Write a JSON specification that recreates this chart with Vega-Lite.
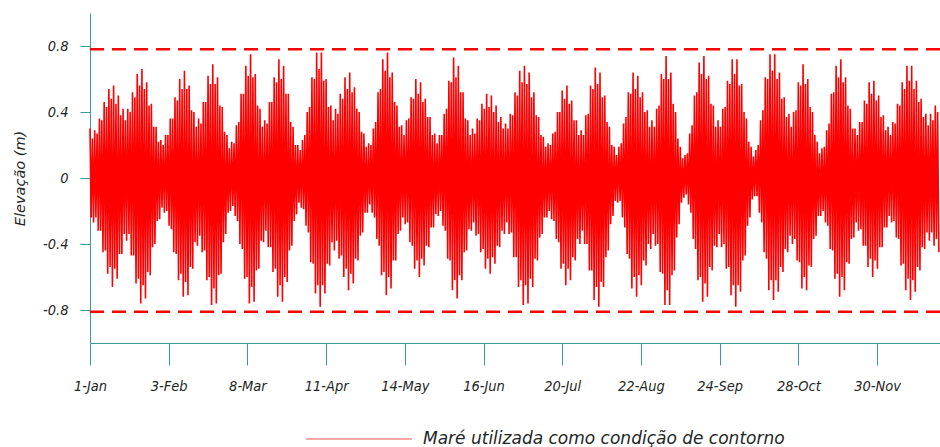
{
  "$schema": "https://vega.github.io/schema/vega-lite/v6.json",
  "width": 850,
  "height": 330,
  "autosize": {"type": "none"},
  "padding": {"left": 90, "top": 13, "right": 0, "bottom": 104},
  "background": "white",
  "config": {
    "view": {"stroke": null},
    "font": "DejaVu Sans",
    "legend": {"labelColor": "#1e2626"}
  },
  "layer": [
    {
      "data": {"values": [
{"t":0,"v":0.30},{"t":1,"v":-0.24},{"t":2,"v":0.24},{"t":3,"v":-0.27},{"t":4,"v":0.29},{"t":5,"v":-0.24},{"t":6,"v":0.27},{"t":7,"v":-0.32},{"t":8,"v":0.36},{"t":9,"v":-0.32},
{"t":10,"v":0.35},{"t":11,"v":-0.45},{"t":12,"v":0.46},{"t":13,"v":-0.44},{"t":14,"v":0.43},{"t":15,"v":-0.58},{"t":16,"v":0.54},{"t":17,"v":-0.54},{"t":18,"v":0.48},{"t":19,"v":-0.66},
{"t":20,"v":0.56},{"t":21,"v":-0.55},{"t":22,"v":0.45},{"t":23,"v":-0.61},{"t":24,"v":0.50},{"t":25,"v":-0.46},{"t":26,"v":0.38},{"t":27,"v":-0.46},{"t":28,"v":0.42},{"t":29,"v":-0.34},
{"t":30,"v":0.35},{"t":31,"v":-0.38},{"t":32,"v":0.42},{"t":33,"v":-0.34},{"t":34,"v":0.40},{"t":35,"v":-0.47},{"t":36,"v":0.52},{"t":37,"v":-0.47},{"t":38,"v":0.49},{"t":39,"v":-0.64},
{"t":40,"v":0.63},{"t":41,"v":-0.61},{"t":42,"v":0.56},{"t":43,"v":-0.76},{"t":44,"v":0.66},{"t":45,"v":-0.65},{"t":46,"v":0.54},{"t":47,"v":-0.73},{"t":48,"v":0.58},{"t":49,"v":-0.57},
{"t":50,"v":0.44},{"t":51,"v":-0.59},{"t":52,"v":0.45},{"t":53,"v":-0.42},{"t":54,"v":0.31},{"t":55,"v":-0.40},{"t":56,"v":0.31},{"t":57,"v":-0.26},{"t":58,"v":0.22},{"t":59,"v":-0.25},
{"t":60,"v":0.23},{"t":61,"v":-0.18},{"t":62,"v":0.20},{"t":63,"v":-0.21},{"t":64,"v":0.26},{"t":65,"v":-0.20},{"t":66,"v":0.26},{"t":67,"v":-0.29},{"t":68,"v":0.36},{"t":69,"v":-0.31},
{"t":70,"v":0.36},{"t":71,"v":-0.45},{"t":72,"v":0.49},{"t":73,"v":-0.46},{"t":74,"v":0.47},{"t":75,"v":-0.62},{"t":76,"v":0.60},{"t":77,"v":-0.58},{"t":78,"v":0.54},{"t":79,"v":-0.72},
{"t":80,"v":0.65},{"t":81,"v":-0.63},{"t":82,"v":0.54},{"t":83,"v":-0.71},{"t":84,"v":0.56},{"t":85,"v":-0.54},{"t":86,"v":0.41},{"t":87,"v":-0.55},{"t":88,"v":0.40},{"t":89,"v":-0.39},
{"t":90,"v":0.31},{"t":91,"v":-0.41},{"t":92,"v":0.36},{"t":93,"v":-0.35},{"t":94,"v":0.33},{"t":95,"v":-0.45},{"t":96,"v":0.46},{"t":97,"v":-0.44},{"t":98,"v":0.46},{"t":99,"v":-0.62},
{"t":100,"v":0.62},{"t":101,"v":-0.60},{"t":102,"v":0.57},{"t":103,"v":-0.77},{"t":104,"v":0.69},{"t":105,"v":-0.67},{"t":106,"v":0.57},{"t":107,"v":-0.76},{"t":108,"v":0.61},{"t":109,"v":-0.59},
{"t":110,"v":0.44},{"t":111,"v":-0.58},{"t":112,"v":0.43},{"t":113,"v":-0.39},{"t":114,"v":0.28},{"t":115,"v":-0.34},{"t":116,"v":0.26},{"t":117,"v":-0.21},{"t":118,"v":0.18},{"t":119,"v":-0.20},
{"t":120,"v":0.22},{"t":121,"v":-0.17},{"t":122,"v":0.21},{"t":123,"v":-0.23},{"t":124,"v":0.32},{"t":125,"v":-0.26},{"t":126,"v":0.34},{"t":127,"v":-0.40},{"t":128,"v":0.51},{"t":129,"v":-0.43},
{"t":130,"v":0.51},{"t":131,"v":-0.61},{"t":132,"v":0.68},{"t":133,"v":-0.60},{"t":134,"v":0.62},{"t":135,"v":-0.76},{"t":136,"v":0.75},{"t":137,"v":-0.66},{"t":138,"v":0.61},{"t":139,"v":-0.75},
{"t":140,"v":0.63},{"t":141,"v":-0.56},{"t":142,"v":0.44},{"t":143,"v":-0.55},{"t":144,"v":0.42},{"t":145,"v":-0.38},{"t":146,"v":0.31},{"t":147,"v":-0.39},{"t":148,"v":0.35},{"t":149,"v":-0.32},
{"t":150,"v":0.33},{"t":151,"v":-0.42},{"t":152,"v":0.46},{"t":153,"v":-0.42},{"t":154,"v":0.46},{"t":155,"v":-0.57},{"t":156,"v":0.61},{"t":157,"v":-0.55},{"t":158,"v":0.58},{"t":159,"v":-0.72},
{"t":160,"v":0.72},{"t":161,"v":-0.65},{"t":162,"v":0.60},{"t":163,"v":-0.75},{"t":164,"v":0.68},{"t":165,"v":-0.60},{"t":166,"v":0.51},{"t":167,"v":-0.63},{"t":168,"v":0.51},{"t":169,"v":-0.44},
{"t":170,"v":0.34},{"t":171,"v":-0.41},{"t":172,"v":0.31},{"t":173,"v":-0.26},{"t":174,"v":0.20},{"t":175,"v":-0.22},{"t":176,"v":0.20},{"t":177,"v":-0.15},{"t":178,"v":0.17},{"t":179,"v":-0.18},
{"t":180,"v":0.23},{"t":181,"v":-0.19},{"t":182,"v":0.26},{"t":183,"v":-0.29},{"t":184,"v":0.40},{"t":185,"v":-0.33},{"t":186,"v":0.43},{"t":187,"v":-0.51},{"t":188,"v":0.61},{"t":189,"v":-0.52},
{"t":190,"v":0.60},{"t":191,"v":-0.70},{"t":192,"v":0.76},{"t":193,"v":-0.65},{"t":194,"v":0.66},{"t":195,"v":-0.78},{"t":196,"v":0.76},{"t":197,"v":-0.65},{"t":198,"v":0.59},{"t":199,"v":-0.70},
{"t":200,"v":0.60},{"t":201,"v":-0.52},{"t":202,"v":0.43},{"t":203,"v":-0.53},{"t":204,"v":0.44},{"t":205,"v":-0.39},{"t":206,"v":0.35},{"t":207,"v":-0.44},{"t":208,"v":0.42},{"t":209,"v":-0.38},
{"t":210,"v":0.39},{"t":211,"v":-0.49},{"t":212,"v":0.51},{"t":213,"v":-0.47},{"t":214,"v":0.48},{"t":215,"v":-0.60},{"t":216,"v":0.61},{"t":217,"v":-0.55},{"t":218,"v":0.54},{"t":219,"v":-0.68},
{"t":220,"v":0.64},{"t":221,"v":-0.58},{"t":222,"v":0.52},{"t":223,"v":-0.64},{"t":224,"v":0.55},{"t":225,"v":-0.49},{"t":226,"v":0.42},{"t":227,"v":-0.50},{"t":228,"v":0.40},{"t":229,"v":-0.35},
{"t":230,"v":0.28},{"t":231,"v":-0.33},{"t":232,"v":0.27},{"t":233,"v":-0.21},{"t":234,"v":0.19},{"t":235,"v":-0.21},{"t":236,"v":0.21},{"t":237,"v":-0.16},{"t":238,"v":0.20},{"t":239,"v":-0.21},
{"t":240,"v":0.30},{"t":241,"v":-0.24},{"t":242,"v":0.34},{"t":243,"v":-0.37},{"t":244,"v":0.52},{"t":245,"v":-0.41},{"t":246,"v":0.54},{"t":247,"v":-0.59},{"t":248,"v":0.72},{"t":249,"v":-0.57},
{"t":250,"v":0.65},{"t":251,"v":-0.71},{"t":252,"v":0.76},{"t":253,"v":-0.60},{"t":254,"v":0.61},{"t":255,"v":-0.67},{"t":256,"v":0.64},{"t":257,"v":-0.50},{"t":258,"v":0.46},{"t":259,"v":-0.50},
{"t":260,"v":0.44},{"t":261,"v":-0.34},{"t":262,"v":0.31},{"t":263,"v":-0.32},{"t":264,"v":0.32},{"t":265,"v":-0.24},{"t":266,"v":0.26},{"t":267,"v":-0.28},{"t":268,"v":0.35},{"t":269,"v":-0.27},
{"t":270,"v":0.36},{"t":271,"v":-0.39},{"t":272,"v":0.49},{"t":273,"v":-0.41},{"t":274,"v":0.48},{"t":275,"v":-0.55},{"t":276,"v":0.60},{"t":277,"v":-0.50},{"t":278,"v":0.51},{"t":279,"v":-0.60},
{"t":280,"v":0.58},{"t":281,"v":-0.49},{"t":282,"v":0.46},{"t":283,"v":-0.53},{"t":284,"v":0.48},{"t":285,"v":-0.41},{"t":286,"v":0.37},{"t":287,"v":-0.42},{"t":288,"v":0.37},{"t":289,"v":-0.30},
{"t":290,"v":0.26},{"t":291,"v":-0.30},{"t":292,"v":0.27},{"t":293,"v":-0.22},{"t":294,"v":0.21},{"t":295,"v":-0.23},{"t":296,"v":0.26},{"t":297,"v":-0.20},{"t":298,"v":0.26},{"t":299,"v":-0.29},
{"t":300,"v":0.39},{"t":301,"v":-0.32},{"t":302,"v":0.42},{"t":303,"v":-0.49},{"t":304,"v":0.59},{"t":305,"v":-0.50},{"t":306,"v":0.58},{"t":307,"v":-0.68},{"t":308,"v":0.73},{"t":309,"v":-0.62},
{"t":310,"v":0.61},{"t":311,"v":-0.73},{"t":312,"v":0.68},{"t":313,"v":-0.59},{"t":314,"v":0.52},{"t":315,"v":-0.62},{"t":316,"v":0.52},{"t":317,"v":-0.45},{"t":318,"v":0.36},{"t":319,"v":-0.44},
{"t":320,"v":0.35},{"t":321,"v":-0.31},{"t":322,"v":0.26},{"t":323,"v":-0.32},{"t":324,"v":0.30},{"t":325,"v":-0.27},{"t":326,"v":0.27},{"t":327,"v":-0.35},{"t":328,"v":0.36},{"t":329,"v":-0.34},
{"t":330,"v":0.35},{"t":331,"v":-0.45},{"t":332,"v":0.45},{"t":333,"v":-0.43},{"t":334,"v":0.42},{"t":335,"v":-0.55},{"t":336,"v":0.51},{"t":337,"v":-0.49},{"t":338,"v":0.43},{"t":339,"v":-0.58},
{"t":340,"v":0.50},{"t":341,"v":-0.48},{"t":342,"v":0.40},{"t":343,"v":-0.52},{"t":344,"v":0.44},{"t":345,"v":-0.41},{"t":346,"v":0.34},{"t":347,"v":-0.42},{"t":348,"v":0.37},{"t":349,"v":-0.32},
{"t":350,"v":0.30},{"t":351,"v":-0.34},{"t":352,"v":0.33},{"t":353,"v":-0.27},{"t":354,"v":0.30},{"t":355,"v":-0.34},{"t":356,"v":0.39},{"t":357,"v":-0.33},{"t":358,"v":0.38},{"t":359,"v":-0.48},
{"t":360,"v":0.52},{"t":361,"v":-0.48},{"t":362,"v":0.50},{"t":363,"v":-0.66},{"t":364,"v":0.65},{"t":365,"v":-0.62},{"t":366,"v":0.58},{"t":367,"v":-0.77},{"t":368,"v":0.68},{"t":369,"v":-0.65},
{"t":370,"v":0.57},{"t":371,"v":-0.76},{"t":372,"v":0.64},{"t":373,"v":-0.61},{"t":374,"v":0.49},{"t":375,"v":-0.66},{"t":376,"v":0.52},{"t":377,"v":-0.49},{"t":378,"v":0.38},{"t":379,"v":-0.50},
{"t":380,"v":0.37},{"t":381,"v":-0.36},{"t":382,"v":0.26},{"t":383,"v":-0.34},{"t":384,"v":0.25},{"t":385,"v":-0.24},{"t":386,"v":0.19},{"t":387,"v":-0.24},{"t":388,"v":0.21},{"t":389,"v":-0.20},
{"t":390,"v":0.20},{"t":391,"v":-0.25},{"t":392,"v":0.27},{"t":393,"v":-0.26},{"t":394,"v":0.28},{"t":395,"v":-0.37},{"t":396,"v":0.40},{"t":397,"v":-0.39},{"t":398,"v":0.40},{"t":399,"v":-0.55},
{"t":400,"v":0.53},{"t":401,"v":-0.52},{"t":402,"v":0.48},{"t":403,"v":-0.65},{"t":404,"v":0.56},{"t":405,"v":-0.55},{"t":406,"v":0.45},{"t":407,"v":-0.62},{"t":408,"v":0.47},{"t":409,"v":-0.48},
{"t":410,"v":0.35},{"t":411,"v":-0.50},{"t":412,"v":0.35},{"t":413,"v":-0.37},{"t":414,"v":0.26},{"t":415,"v":-0.40},{"t":416,"v":0.29},{"t":417,"v":-0.32},{"t":418,"v":0.26},{"t":419,"v":-0.40},
{"t":420,"v":0.38},{"t":421,"v":-0.40},{"t":422,"v":0.39},{"t":423,"v":-0.56},{"t":424,"v":0.56},{"t":425,"v":-0.56},{"t":426,"v":0.54},{"t":427,"v":-0.74},{"t":428,"v":0.67},{"t":429,"v":-0.66},
{"t":430,"v":0.57},{"t":431,"v":-0.78},{"t":432,"v":0.64},{"t":433,"v":-0.63},{"t":434,"v":0.49},{"t":435,"v":-0.66},{"t":436,"v":0.50},{"t":437,"v":-0.48},{"t":438,"v":0.34},{"t":439,"v":-0.44},
{"t":440,"v":0.31},{"t":441,"v":-0.28},{"t":442,"v":0.20},{"t":443,"v":-0.23},{"t":444,"v":0.19},{"t":445,"v":-0.14},{"t":446,"v":0.14},{"t":447,"v":-0.15},{"t":448,"v":0.19},{"t":449,"v":-0.14},
{"t":450,"v":0.21},{"t":451,"v":-0.24},{"t":452,"v":0.33},{"t":453,"v":-0.30},{"t":454,"v":0.37},{"t":455,"v":-0.46},{"t":456,"v":0.52},{"t":457,"v":-0.49},{"t":458,"v":0.51},{"t":459,"v":-0.67},
{"t":460,"v":0.64},{"t":461,"v":-0.60},{"t":462,"v":0.54},{"t":463,"v":-0.72},{"t":464,"v":0.62},{"t":465,"v":-0.59},{"t":466,"v":0.49},{"t":467,"v":-0.65},{"t":468,"v":0.52},{"t":469,"v":-0.50},
{"t":470,"v":0.40},{"t":471,"v":-0.53},{"t":472,"v":0.41},{"t":473,"v":-0.40},{"t":474,"v":0.31},{"t":475,"v":-0.43},{"t":476,"v":0.35},{"t":477,"v":-0.34},{"t":478,"v":0.31},{"t":479,"v":-0.41},
{"t":480,"v":0.42},{"t":481,"v":-0.40},{"t":482,"v":0.44},{"t":483,"v":-0.57},{"t":484,"v":0.63},{"t":485,"v":-0.58},{"t":486,"v":0.60},{"t":487,"v":-0.77},{"t":488,"v":0.74},{"t":489,"v":-0.68},
{"t":490,"v":0.60},{"t":491,"v":-0.77},{"t":492,"v":0.64},{"t":493,"v":-0.59},{"t":494,"v":0.45},{"t":495,"v":-0.56},{"t":496,"v":0.40},{"t":497,"v":-0.36},{"t":498,"v":0.24},{"t":499,"v":-0.28},
{"t":500,"v":0.19},{"t":501,"v":-0.15},{"t":502,"v":0.12},{"t":503,"v":-0.12},{"t":504,"v":0.14},{"t":505,"v":-0.10},{"t":506,"v":0.15},{"t":507,"v":-0.16},{"t":508,"v":0.27},{"t":509,"v":-0.21},
{"t":510,"v":0.32},{"t":511,"v":-0.37},{"t":512,"v":0.50},{"t":513,"v":-0.43},{"t":514,"v":0.52},{"t":515,"v":-0.62},{"t":516,"v":0.70},{"t":517,"v":-0.60},{"t":518,"v":0.63},{"t":519,"v":-0.75},
{"t":520,"v":0.74},{"t":521,"v":-0.64},{"t":522,"v":0.60},{"t":523,"v":-0.72},{"t":524,"v":0.62},{"t":525,"v":-0.54},{"t":526,"v":0.45},{"t":527,"v":-0.56},{"t":528,"v":0.44},{"t":529,"v":-0.41},
{"t":530,"v":0.31},{"t":531,"v":-0.42},{"t":532,"v":0.35},{"t":533,"v":-0.34},{"t":534,"v":0.31},{"t":535,"v":-0.42},{"t":536,"v":0.42},{"t":537,"v":-0.40},{"t":538,"v":0.43},{"t":539,"v":-0.55},
{"t":540,"v":0.59},{"t":541,"v":-0.54},{"t":542,"v":0.57},{"t":543,"v":-0.71},{"t":544,"v":0.72},{"t":545,"v":-0.65},{"t":546,"v":0.63},{"t":547,"v":-0.78},{"t":548,"v":0.72},{"t":549,"v":-0.65},
{"t":550,"v":0.56},{"t":551,"v":-0.69},{"t":552,"v":0.57},{"t":553,"v":-0.50},{"t":554,"v":0.40},{"t":555,"v":-0.47},{"t":556,"v":0.36},{"t":557,"v":-0.29},{"t":558,"v":0.22},{"t":559,"v":-0.24},
{"t":560,"v":0.19},{"t":561,"v":-0.13},{"t":562,"v":0.13},{"t":563,"v":-0.11},{"t":564,"v":0.17},{"t":565,"v":-0.11},{"t":566,"v":0.20},{"t":567,"v":-0.21},{"t":568,"v":0.35},{"t":569,"v":-0.27},
{"t":570,"v":0.41},{"t":571,"v":-0.45},{"t":572,"v":0.61},{"t":573,"v":-0.49},{"t":574,"v":0.60},{"t":575,"v":-0.68},{"t":576,"v":0.75},{"t":577,"v":-0.62},{"t":578,"v":0.65},{"t":579,"v":-0.74},
{"t":580,"v":0.75},{"t":581,"v":-0.62},{"t":582,"v":0.60},{"t":583,"v":-0.69},{"t":584,"v":0.64},{"t":585,"v":-0.54},{"t":586,"v":0.48},{"t":587,"v":-0.57},{"t":588,"v":0.49},{"t":589,"v":-0.43},
{"t":590,"v":0.37},{"t":591,"v":-0.45},{"t":592,"v":0.39},{"t":593,"v":-0.35},{"t":594,"v":0.31},{"t":595,"v":-0.40},{"t":596,"v":0.40},{"t":597,"v":-0.37},{"t":598,"v":0.41},{"t":599,"v":-0.50},
{"t":600,"v":0.58},{"t":601,"v":-0.51},{"t":602,"v":0.56},{"t":603,"v":-0.67},{"t":604,"v":0.69},{"t":605,"v":-0.60},{"t":606,"v":0.57},{"t":607,"v":-0.68},{"t":608,"v":0.60},{"t":609,"v":-0.53},
{"t":610,"v":0.43},{"t":611,"v":-0.54},{"t":612,"v":0.40},{"t":613,"v":-0.37},{"t":614,"v":0.26},{"t":615,"v":-0.35},{"t":616,"v":0.22},{"t":617,"v":-0.23},{"t":618,"v":0.15},{"t":619,"v":-0.23},
{"t":620,"v":0.18},{"t":621,"v":-0.20},{"t":622,"v":0.19},{"t":623,"v":-0.27},{"t":624,"v":0.29},{"t":625,"v":-0.29},{"t":626,"v":0.33},{"t":627,"v":-0.43},{"t":628,"v":0.51},{"t":629,"v":-0.44},
{"t":630,"v":0.52},{"t":631,"v":-0.61},{"t":632,"v":0.68},{"t":633,"v":-0.58},{"t":634,"v":0.61},{"t":635,"v":-0.72},{"t":636,"v":0.72},{"t":637,"v":-0.60},{"t":638,"v":0.58},{"t":639,"v":-0.68},
{"t":640,"v":0.61},{"t":641,"v":-0.51},{"t":642,"v":0.44},{"t":643,"v":-0.52},{"t":644,"v":0.42},{"t":645,"v":-0.37},{"t":646,"v":0.30},{"t":647,"v":-0.36},{"t":648,"v":0.30},{"t":649,"v":-0.27},
{"t":650,"v":0.26},{"t":651,"v":-0.32},{"t":652,"v":0.34},{"t":653,"v":-0.31},{"t":654,"v":0.34},{"t":655,"v":-0.41},{"t":656,"v":0.47},{"t":657,"v":-0.41},{"t":658,"v":0.45},{"t":659,"v":-0.54},
{"t":660,"v":0.58},{"t":661,"v":-0.49},{"t":662,"v":0.51},{"t":663,"v":-0.60},{"t":664,"v":0.59},{"t":665,"v":-0.50},{"t":666,"v":0.47},{"t":667,"v":-0.55},{"t":668,"v":0.50},{"t":669,"v":-0.42},
{"t":670,"v":0.37},{"t":671,"v":-0.42},{"t":672,"v":0.38},{"t":673,"v":-0.30},{"t":674,"v":0.29},{"t":675,"v":-0.30},{"t":676,"v":0.31},{"t":677,"v":-0.23},{"t":678,"v":0.26},{"t":679,"v":-0.27},
{"t":680,"v":0.34},{"t":681,"v":-0.26},{"t":682,"v":0.33},{"t":683,"v":-0.36},{"t":684,"v":0.45},{"t":685,"v":-0.37},{"t":686,"v":0.44},{"t":687,"v":-0.53},{"t":688,"v":0.58},{"t":689,"v":-0.52},
{"t":690,"v":0.54},{"t":691,"v":-0.68},{"t":692,"v":0.68},{"t":693,"v":-0.61},{"t":694,"v":0.59},{"t":695,"v":-0.74},{"t":696,"v":0.68},{"t":697,"v":-0.62},{"t":698,"v":0.54},{"t":699,"v":-0.69},
{"t":700,"v":0.59},{"t":701,"v":-0.54},{"t":702,"v":0.46},{"t":703,"v":-0.56},{"t":704,"v":0.48},{"t":705,"v":-0.42},{"t":706,"v":0.37},{"t":707,"v":-0.43},{"t":708,"v":0.39},{"t":709,"v":-0.33},
{"t":710,"v":0.32},{"t":711,"v":-0.38},{"t":712,"v":0.39},{"t":713,"v":-0.33},{"t":714,"v":0.35},{"t":715,"v":-0.41},{"t":716,"v":0.44},{"t":717,"v":-0.37},{"t":718,"v":0.40},{"t":719,"v":-0.45}
      ]},
      "mark": {"type": "line", "strokeWidth": 1.6},
      "encoding": {
        "x": {
          "field": "t",
          "type": "quantitative",
          "scale": {"domain": [0, 720], "nice": false, "zero": false},
          "axis": {
            "title": null,
            "values": [0, 66.6667, 133.3333, 200, 266.6667, 333.3333, 400, 466.6667, 533.3333, 600, 666.6667],
            "labelExpr": "utcFormat(utc(2015, 0, 1) + datum.value * 43200000, '%-d-%b')",
            "grid": false,
            "domainColor": "#3d9a9a",
            "tickColor": "#3d9a9a",
            "tickSize": 22,
            "labelFont": "DejaVu Sans Condensed, DejaVu Sans",
            "labelFontStyle": "italic",
            "labelFontSize": 14.5,
            "labelColor": "#1e2626",
            "labelPadding": 14,
            "labelFlush": false,
            "labelOverlap": false
          }
        },
        "y": {
          "field": "v",
          "type": "quantitative",
          "scale": {"domain": [-1, 1], "nice": false},
          "axis": {
            "title": "Elevação (m)",
            "values": [-0.8, -0.4, 0, 0.4, 0.8],
            "labelExpr": "toString(datum.value)",
            "grid": false,
            "domainColor": "#3d9a9a",
            "tickColor": "#3d9a9a",
            "tickSize": 10,
            "labelFont": "DejaVu Sans Condensed, DejaVu Sans",
            "labelFontStyle": "italic",
            "labelFontSize": 14.5,
            "labelColor": "#1e2626",
            "labelPadding": 12,
            "labelFlush": false,
            "titleFont": "DejaVu Sans",
            "titleFontStyle": "italic",
            "titleFontWeight": "normal",
            "titleFontSize": 14.5,
            "titleColor": "#1e2626",
            "titlePadding": 15
          }
        },
        "stroke": {
          "datum": "Maré utilizada como condição de contorno",
          "type": "nominal",
          "scale": {"range": ["#ff0000"]},
          "legend": {
            "title": null,
            "orient": "none",
            "legendX": 216,
            "legendY": 373,
            "symbolType": "M-1,-0.012H1V0.012H-1Z",
            "symbolSize": 11236,
            "symbolStrokeWidth": 0,
            "symbolFillColor": "#ff8a8a",
            "labelFont": "DejaVu Sans",
            "labelFontStyle": "italic",
            "labelFontSize": 17,
            "labelOffset": 11,
            "labelLimit": 600,
            "encode": {
              "symbols": {"update": {"fill": {"value": "#ff8a8a"}, "stroke": {"value": "#ff8a8a"}, "strokeWidth": {"value": 0}, "opacity": {"value": 1}}}
            }
          }
        }
      }
    },
    {
      "data": {"values": [{"level": 0.78}, {"level": -0.81}]},
      "mark": {"type": "rule", "color": "#ff0000", "strokeWidth": 2.5, "strokeDash": [14, 8]},
      "encoding": {"y": {"field": "level", "type": "quantitative"}}
    }
  ]
}
